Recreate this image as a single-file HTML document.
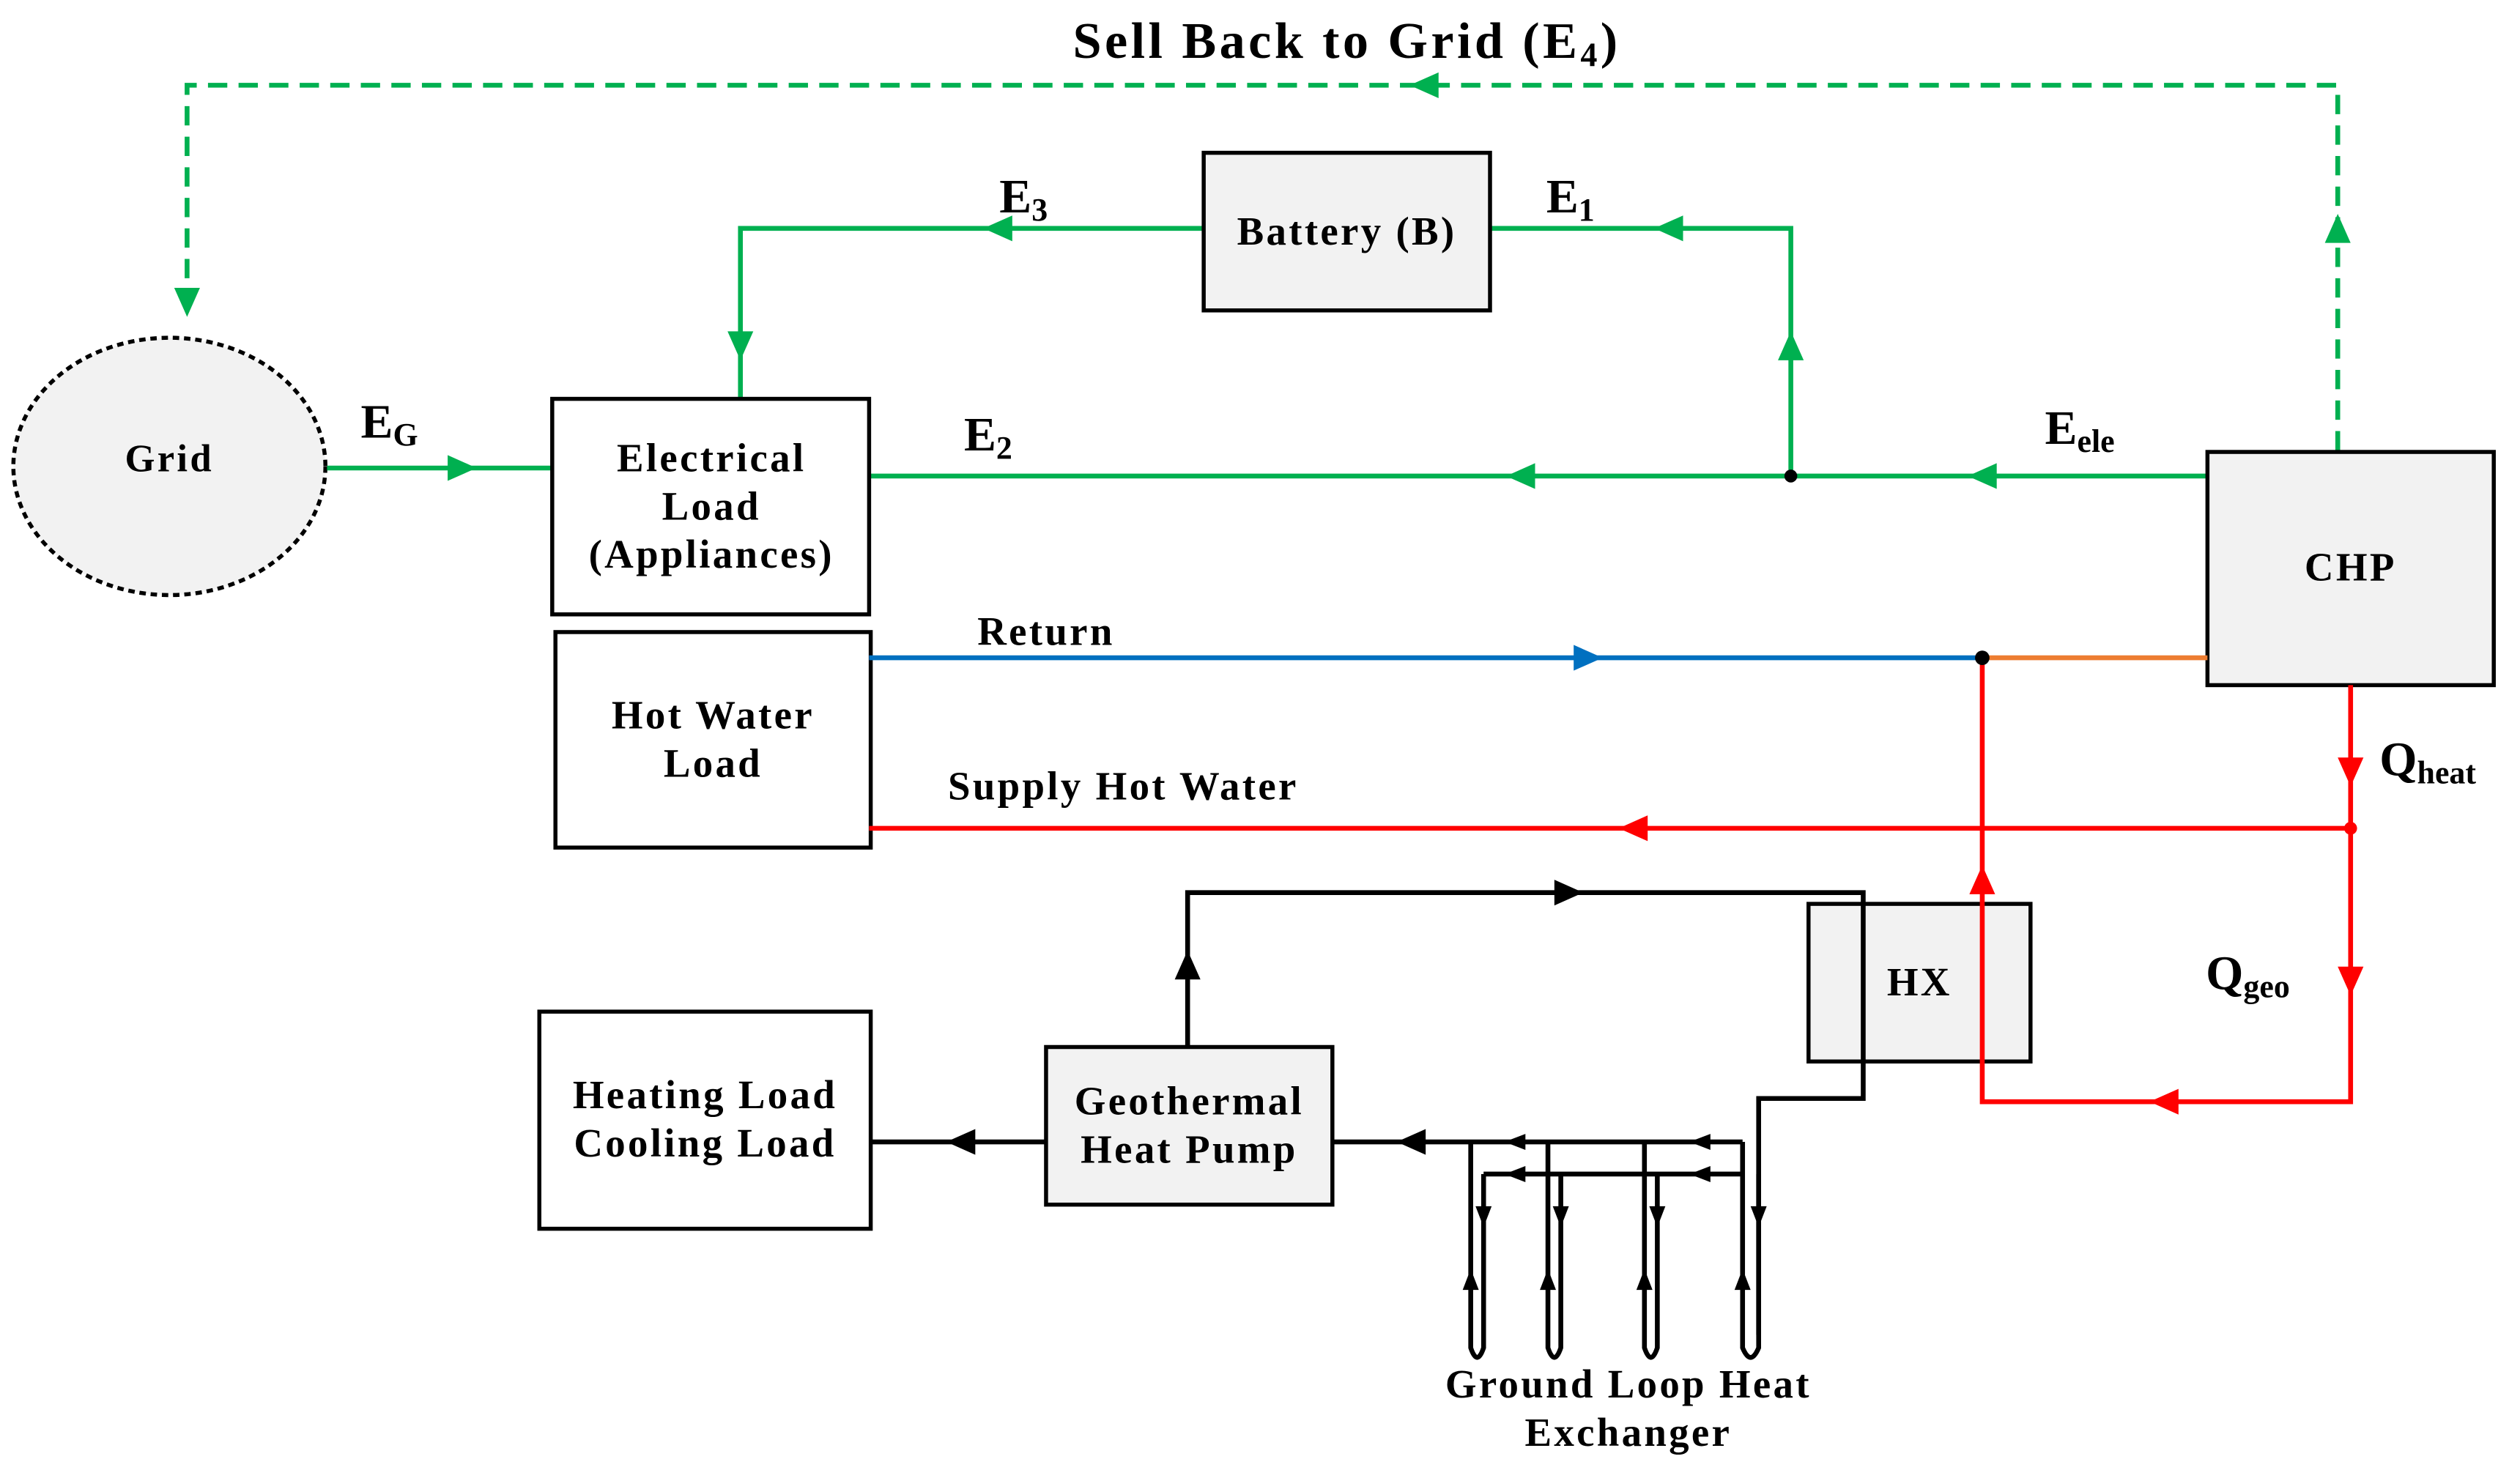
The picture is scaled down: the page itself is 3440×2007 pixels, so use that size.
<!DOCTYPE html>
<html><head><meta charset="utf-8"><style>html,body{margin:0;padding:0;background:#fff}svg{display:block}</style></head>
<body>
<svg width="3440" height="2007" viewBox="0 0 1566 914" xmlns="http://www.w3.org/2000/svg" font-family="Liberation Serif, serif" font-weight="bold">
<defs>
<polygon id="a" points="-9,-8 9,0 -9,8"/>
<polygon id="s" points="-6,-5 7,0 -6,5"/>
</defs>
<rect width="1566" height="914" fill="#fff"/>
<text x="837" y="36" font-size="32" letter-spacing="2" text-anchor="middle">Sell Back to Grid (E<tspan font-size="21" dy="5">4</tspan><tspan dy="-5">)</tspan></text>
<g stroke="#00b050" stroke-width="3" fill="none" stroke-dasharray="12,7">
<path d="M1453,280 V53 H116 V195"/>
</g>
<g fill="#00b050">
<use href="#a" transform="translate(885,53) rotate(180)"/>
<use href="#a" transform="translate(1453,142) rotate(-90)"/>
<use href="#a" transform="translate(116,188) rotate(90)"/>
</g>
<ellipse cx="105" cy="290" rx="97" ry="80" fill="#f2f2f2" stroke="#000" stroke-width="2.5" stroke-dasharray="4,3"/>
<text x="105" y="293" font-size="24" letter-spacing="1.5" text-anchor="middle">Grid</text>
<g stroke="#00b050" stroke-width="3" fill="none">
<path d="M203,291 H343"/>
<path d="M748,142 H460 V248"/>
<path d="M926,142 H1113 V296"/>
<path d="M540,296 H1372"/>
</g>
<g fill="#00b050">
<use href="#a" transform="translate(287,291)"/>
<use href="#a" transform="translate(620,142) rotate(180)"/>
<use href="#a" transform="translate(460,215) rotate(90)"/>
<use href="#a" transform="translate(1037,142) rotate(180)"/>
<use href="#a" transform="translate(1113,215) rotate(-90)"/>
<use href="#a" transform="translate(945,296) rotate(180)"/>
<use href="#a" transform="translate(1232,296) rotate(180)"/>
</g>
<circle cx="1113" cy="296" r="4" fill="#000"/>
<g font-size="30">
<text x="224" y="272">E<tspan font-size="20" dy="5">G</tspan></text>
<text x="621" y="132">E<tspan font-size="20" dy="5">3</tspan></text>
<text x="961" y="132">E<tspan font-size="20" dy="5">1</tspan></text>
<text x="599" y="280">E<tspan font-size="20" dy="5">2</tspan></text>
<text x="1271" y="276">E<tspan font-size="20" dy="5">ele</tspan></text>
<text x="1479" y="482">Q<tspan font-size="20" dy="5">heat</tspan></text>
<text x="1371" y="615">Q<tspan font-size="20" dy="5">geo</tspan></text>
</g>
<g stroke="#000" stroke-width="2.5">
<rect x="343" y="248" width="197" height="134" fill="#fff"/>
<rect x="748" y="95" width="178" height="98" fill="#f2f2f2"/>
<rect x="1372" y="281" width="178" height="145" fill="#f2f2f2"/>
<rect x="345" y="393" width="196" height="134" fill="#fff"/>
<rect x="1124" y="562" width="138" height="98" fill="#f2f2f2"/>
<rect x="650" y="651" width="178" height="98" fill="#f2f2f2"/>
<rect x="335" y="629" width="206" height="135" fill="#fff"/>
</g>
<g font-size="25" letter-spacing="1.5" text-anchor="middle">
<text x="442" y="293">Electrical</text>
<text x="442" y="323">Load</text>
<text x="442" y="353">(Appliances)</text>
<text x="837" y="152">Battery (B)</text>
<text x="1461" y="361">CHP</text>
<text x="443" y="453">Hot Water</text>
<text x="443" y="483">Load</text>
<text x="1193" y="619">HX</text>
<text x="739" y="693">Geothermal</text>
<text x="739" y="723">Heat Pump</text>
<text x="438" y="689">Heating Load</text>
<text x="438" y="719">Cooling Load</text>
<text x="650" y="401">Return</text>
<text x="698" y="497">Supply Hot Water</text>
<text x="1012" y="869">Ground Loop Heat</text>
<text x="1012" y="899">Exchanger</text>
</g>
<path d="M540,409 H1232" stroke="#0070c0" stroke-width="3"/>
<path d="M1232,409 H1372" stroke="#ed7d31" stroke-width="3"/>
<use href="#a" transform="translate(987,409)" fill="#0070c0"/>
<g stroke="#ff0000" stroke-width="3" fill="none">
<path d="M1461,426 V685 H1232 V409"/>
<path d="M540,515 H1461"/>
</g>
<g fill="#ff0000">
<use href="#a" transform="translate(1461,480) rotate(90)"/>
<use href="#a" transform="translate(1461,610) rotate(90)"/>
<use href="#a" transform="translate(1015,515) rotate(180)"/>
<use href="#a" transform="translate(1345,685) rotate(180)"/>
<use href="#a" transform="translate(1232,547) rotate(-90)"/>
</g>
<circle cx="1461" cy="515" r="4" fill="#ff0000"/>
<circle cx="1232" cy="409" r="4.5" fill="#000"/>
<g stroke="#000" stroke-width="3" fill="none">
<path d="M738,651 V555 H1158 V683 H1093 V830"/>
<path d="M541,710 H650"/>
<path d="M828,710 H1083"/>
<path d="M922,730 H1083"/>
<path d="M914,710 V838 Q918,850 922,838 V730"/>
<path d="M962,710 V838 Q966,850 970,838 V730"/>
<path d="M1022,710 V838 Q1026,850 1030,838 V730"/>
<path d="M1083,710 V838 Q1088,850 1093,838 V730"/>
</g>
<g fill="#000">
<use href="#a" transform="translate(738,600) rotate(-90)"/>
<use href="#a" transform="translate(975,555)"/>
<use href="#a" transform="translate(597,710) rotate(180)"/>
<use href="#a" transform="translate(877,710) rotate(180)"/>
<use href="#s" transform="translate(942,710) rotate(180)"/>
<use href="#s" transform="translate(1057,710) rotate(180)"/>
<use href="#s" transform="translate(942,730) rotate(180)"/>
<use href="#s" transform="translate(1057,730) rotate(180)"/>
<use href="#s" transform="translate(922,756) rotate(90)"/>
<use href="#s" transform="translate(970,756) rotate(90)"/>
<use href="#s" transform="translate(1030,756) rotate(90)"/>
<use href="#s" transform="translate(1093,756) rotate(90)"/>
<use href="#s" transform="translate(914,796) rotate(-90)"/>
<use href="#s" transform="translate(962,796) rotate(-90)"/>
<use href="#s" transform="translate(1022,796) rotate(-90)"/>
<use href="#s" transform="translate(1083,796) rotate(-90)"/>
</g>
</svg>
</body></html>
